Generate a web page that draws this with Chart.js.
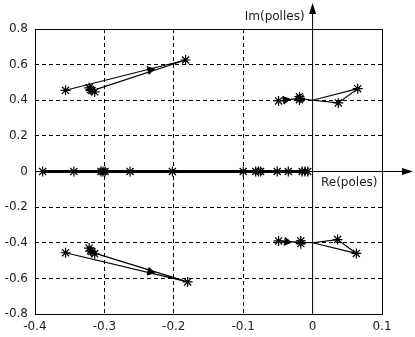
<!DOCTYPE html>
<html>
<head>
<meta charset="utf-8">
<script src="https://cdn.jsdelivr.net/npm/chart.js@4"></script>
<style>
  body { margin: 0; background: #fff; }
  canvas { display: block; }
</style>
</head>
<body>
<canvas id="locus" width="415" height="337"></canvas>
<script>
// pole branches (lines)
const reUL = [-0.356, -0.183, -0.314];
const imUL = [0.456, 0.626, 0.458];
const reLL = [-0.356, -0.180, -0.314];
const imLL = [-0.456, -0.620, -0.458];
const reUR = [-0.049, -0.019, 0, 0.065, 0.037, 0];
const imUR = [0.396, 0.410, 0.400, 0.465, 0.385, 0.400];
const reLR = [-0.049, -0.017, 0, 0.036, 0.063, 0];
const imLR = [-0.390, -0.398, -0.400, -0.382, -0.460, -0.400];
const reReal = [-0.389, -0.344, -0.305, -0.302, -0.299, -0.263, -0.202, -0.100,
                -0.082, -0.078, -0.075, -0.051, -0.035, -0.015, -0.011, -0.007];

// pole positions (stars)
const starRe = [-0.356, -0.322, -0.318, -0.314, -0.320, -0.183,
                -0.356, -0.322, -0.318, -0.314, -0.320, -0.180,
                -0.049, -0.019, -0.019, -0.018, 0.065, 0.037,
                -0.049, -0.017, -0.017, 0.036, 0.063];
const starIm = [0.456, 0.470, 0.455, 0.447, 0.460, 0.626,
                -0.456, -0.430, -0.450, -0.462, -0.445, -0.620,
                0.396, 0.420, 0.402, 0.410, 0.465, 0.385,
                -0.390, -0.390, -0.405, -0.382, -0.460];

// direction arrows on the branches
const arrowRe = [-0.234, -0.234, -0.039, -0.037];
const arrowIm = [0.570, -0.563, 0.402, -0.394];
const arrowAngle = [76, 104, 80, 97];

const xTicks = [-0.4, -0.3, -0.2, -0.1, 0, 0.1];

function pts(xs, ys) {
  return xs.map((x, i) => ({x: x, y: ys[i]}));
}

function branch(xs, ys, w) {
  return {
    data: pts(xs, ys),
    showLine: true,
    borderColor: '#000',
    borderWidth: w || 1.2,
    pointRadius: 0,
    tension: 0
  };
}

function stars(xs, ys) {
  return {
    data: pts(xs, ys),
    pointStyle: 'star',
    pointRadius: 5,
    borderColor: '#000',
    borderWidth: 1.2,
    showLine: false
  };
}

const font = {family: 'DejaVu Sans', size: 12};

// frame, solid axes through the origin with arrowheads, axis names
const axesPlugin = {
  id: 'axes',
  afterDatasetsDraw(chart) {
    const c = chart.ctx, a = chart.chartArea;
    const x0 = chart.scales.x.getPixelForValue(0);
    const y0 = chart.scales.y.getPixelForValue(0);
    c.save();
    c.strokeStyle = '#000';
    c.fillStyle = '#000';
    c.lineWidth = 1;
    c.strokeRect(a.left + 0.5, a.top + 0.5, a.right - a.left, a.bottom - a.top);
    c.beginPath();
    c.moveTo(x0, a.bottom);
    c.lineTo(x0, 10);
    c.moveTo(a.left, y0);
    c.lineTo(405, y0);
    c.stroke();
    c.beginPath();
    c.moveTo(x0, 3);
    c.lineTo(x0 - 3.5, 14);
    c.lineTo(x0 + 3.5, 14);
    c.closePath();
    c.fill();
    c.beginPath();
    c.moveTo(413, y0);
    c.lineTo(402, y0 - 3.5);
    c.lineTo(402, y0 + 3.5);
    c.closePath();
    c.fill();
    c.font = '12px "DejaVu Sans"';
    c.fillStyle = '#222';
    c.textBaseline = 'middle';
    c.textAlign = 'right';
    c.fillText('Im(polles)', x0 - 8, 17);
    c.textAlign = 'left';
    c.fillText('Re(poles)', 321, y0 + 11);
    c.restore();
  }
};

const gridColor = ctx => (ctx.tick && Math.abs(ctx.tick.value) < 1e-9) ? 'rgba(0,0,0,0)' : '#000';

new Chart(document.getElementById('locus'), {
  type: 'scatter',
  data: {
    datasets: [
      branch(reUL, imUL),
      branch(reLL, imLL),
      branch(reUR, imUR),
      branch(reLR, imLR),
      branch(reReal, reReal.map(() => 0), 2.8),
      stars(starRe, starIm),
      stars(reReal, reReal.map(() => 0)),
      {
        data: pts(arrowRe, arrowIm),
        pointStyle: 'triangle',
        pointRadius: 4.5,
        rotation: arrowAngle,
        backgroundColor: '#000',
        borderColor: '#000',
        borderWidth: 1,
        showLine: false
      }
    ]
  },
  options: {
    responsive: false,
    devicePixelRatio: 1,
    animation: false,
    layout: {padding: {top: 29, right: 33, left: 0, bottom: 0}},
    plugins: {legend: {display: false}, tooltip: {enabled: false}},
    scales: {
      x: {
        type: 'linear',
        min: -0.4,
        max: 0.1,
        afterBuildTicks: s => { s.ticks = xTicks.map(v => ({value: v})); },
        afterFit: s => { s.height = 23; },
        ticks: {
          font: font,
          color: '#222',
          padding: 6,
          maxRotation: 0,
          callback: v => String(Number(v.toFixed(1)))
        },
        grid: {drawTicks: false, color: gridColor},
        border: {display: false, dash: [4, 3]}
      },
      y: {
        type: 'linear',
        min: -0.8,
        max: 0.8,
        afterFit: s => { s.width = 35; },
        ticks: {
          stepSize: 0.2,
          font: font,
          color: '#222',
          padding: 7,
          callback: v => String(Number(v.toFixed(1)))
        },
        grid: {drawTicks: false, color: gridColor},
        border: {display: false, dash: [4, 3]}
      }
    }
  },
  plugins: [axesPlugin]
});
</script>
</body>
</html>
